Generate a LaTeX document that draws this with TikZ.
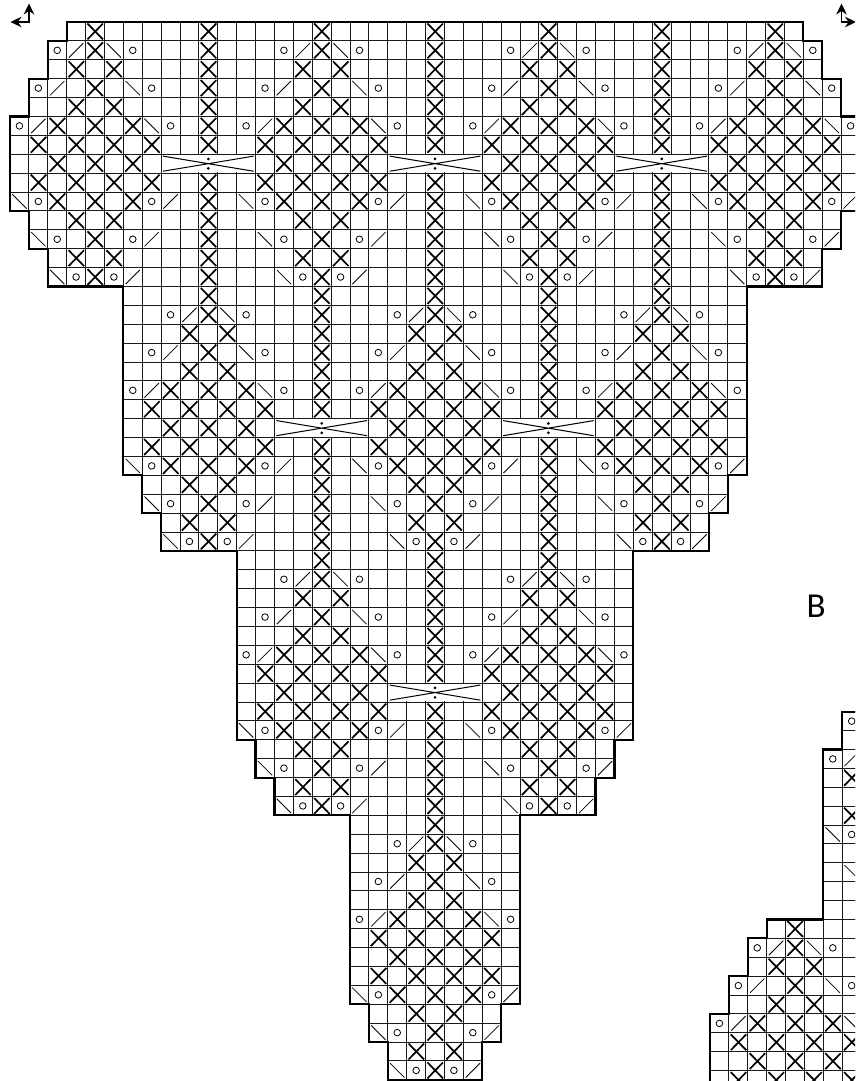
\documentclass[tikz,border=0pt]{standalone}
\usepackage{fontspec}
\setmainfont{Carlito}
\usetikzlibrary{arrows.meta}
\tikzset{
  gridln/.style={line width=1pt,black!90},
  outln/.style={line width=2.2pt,black,line join=miter},
  xst/.style={line width=1.7pt,black},
  thinst/.style={line width=0.8pt,black},
  ringst/.style={line width=0.8pt,black,fill=white},
  dirarrow/.style={line width=1.9pt,black,-{Stealth[length=11pt,width=10.5pt]}},
  chart/.style={x=18.89pt,y=-18.89pt}
}
% stitches: column, row of the cell
\newcommand{\stX}[2]{\draw[xst] ({#1+.1},{#2+.08}) -- ({#1+.92},{#2+.92}) ({#1+.92},{#2+.08}) -- ({#1+.1},{#2+.92});}
\newcommand{\stO}[2]{\draw[ringst] ({#1+.5},{#2+.5}) circle (3.3pt);}
\newcommand{\stR}[2]{\draw[thinst] ({#1+.12},{#2+.88}) -- ({#1+.88},{#2+.12});}
\newcommand{\stL}[2]{\draw[thinst] ({#1+.12},{#2+.12}) -- ({#1+.88},{#2+.88});}
% lace motif: centre column, first row
\newcommand{\lacemotif}[2]{%
  \foreach \d/\e in {0/0,0/1,-1/2,1/2,0/3,-1/4,1/4,-2/5,0/5,2/5,-3/6,-1/6,1/6,3/6,-2/7,0/7,2/7,-3/8,-1/8,1/8,3/8,-2/9,0/9,2/9,-1/10,1/10,0/11,-1/12,1/12,0/13}{\stX{#1+\d}{#2+\e}}%
  \foreach \d/\e in {-2/1,2/1,-3/3,3/3,-4/5,4/5,-3/9,3/9,-2/11,2/11,-1/13,1/13}{\stO{#1+\d}{#2+\e}}%
  \foreach \d/\e in {-1/1,-2/3,-3/5,4/9,3/11,2/13}{\stR{#1+\d}{#2+\e}}%
  \foreach \d/\e in {1/1,2/3,3/5,-4/9,-3/11,-2/13}{\stL{#1+\d}{#2+\e}}%
}
% rope column with the merged crossing in its eighth row
\newcommand{\ropecol}[2]{%
  \foreach \e in {0,...,6,8,9,...,13}{\stX{#1}{#2+\e}}%
  \fill[white] ({#1-2+.04},{#2+7+.04}) rectangle ({#1+3-.04},{#2+8-.04});
  \draw[line width=1pt,black] ({#1-2+.1},{#2+7+.1}) -- ({#1+3-.1},{#2+7+.9}) ({#1-2+.1},{#2+7+.9}) -- ({#1+3-.1},{#2+7+.1});
  \fill ({#1+.5},{#2+7+.25}) circle (1.5pt) ({#1+.5},{#2+7+.75}) circle (1.5pt);
}
\begin{document}
\begin{tikzpicture}[x=1pt,y=1pt]
\useasboundingbox (0pt,0pt) rectangle (855pt,-1081pt);
\clip (0pt,0pt) rectangle (855pt,-1081pt);
\fill[white] (0pt,0pt) rectangle (855pt,-1081pt);
% ---------- chart A
\begin{scope}[shift={(10pt,-22pt)},chart]
  \foreach \r/\L in {0/3,1/2,2/2,3/1,4/1,5/0,6/0,7/0,8/0,9/0,10/1,11/1,12/2,13/2,
     14/6,15/6,16/6,17/6,18/6,19/6,20/6,21/6,22/6,23/6,24/7,25/7,26/8,27/8,
     28/12,29/12,30/12,31/12,32/12,33/12,34/12,35/12,36/12,37/12,38/13,39/13,40/14,41/14,
     42/18,43/18,44/18,45/18,46/18,47/18,48/18,49/18,50/18,51/18,52/19,53/19,54/20,55/20}{
    \pgfmathtruncatemacro{\RR}{45-\L}
    \draw[gridln] (\L,\r) -- (\RR,\r) (\L,\r+1) -- (\RR,\r+1);
    \foreach \c in {\L,...,\RR}{\draw[gridln] (\c,\r) -- (\c,\r+1);}
  }
  \foreach \m in {4,16,28,40}{\lacemotif{\m}{0}}
  \foreach \m in {10,22,34}{\ropecol{\m}{0}}
  \foreach \m in {10,22,34}{\lacemotif{\m}{14}}
  \foreach \m in {16,28}{\ropecol{\m}{14}}
  \foreach \m in {16,28}{\lacemotif{\m}{28}}
  \ropecol{22}{28}
  \lacemotif{22}{42}
  \draw[outln] (3,0)--(3,1)--(2,1)--(2,3)--(1,3)--(1,5)--(0,5)--(0,10)--(1,10)--(1,12)--(2,12)--(2,14)--(6,14)--(6,24)--(7,24)--(7,26)--(8,26)--(8,28)--(12,28)--(12,38)--(13,38)--(13,40)--(14,40)--(14,42)--(18,42)--(18,52)--(19,52)--(19,54)--(20,54)--(20,56)--(25,56)--(25,54)--(26,54)--(26,52)--(27,52)--(27,42)--(31,42)--(31,40)--(32,40)--(32,38)--(33,38)--(33,28)--(37,28)--(37,26)--(38,26)--(38,24)--(39,24)--(39,14)--(43,14)--(43,12)--(44,12)--(44,10)--(45,10)--(45,5)--(44,5)--(44,3)--(43,3)--(43,1)--(42,1)--(42,0)--cycle;
\end{scope}
% ---------- chart B (runs off the page)
\begin{scope}[shift={(710pt,-711.7pt)},chart]
  \foreach \r/\L in {0/7,1/7,2/6,3/6,4/6,5/6,6/6,7/6,8/6,9/6,10/6,11/3,12/2,13/2,14/1,15/1,16/0,17/0,18/0,19/0,20/0}{
    \draw[gridln] (\L,\r) -- (9,\r) (\L,\r+1) -- (9,\r+1);
    \foreach \c in {\L,...,8}{\draw[gridln] (\c,\r) -- (\c,\r+1);}
  }
  \foreach \e in {3,5}{\stX{7}{\e}}
  \foreach \c/\e in {7/0,6/2,7/6}{\stO{\c}{\e}}
  \stR{7}{2}
  \foreach \c/\e in {6/6,7/8}{\stL{\c}{\e}}
  \lacemotif{4}{11}
  \draw[outln] (9,0)--(7,0)--(7,2)--(6,2)--(6,11)--(3,11)--(3,12)--(2,12)--(2,14)--(1,14)--(1,16)--(0,16)--(0,21);
\end{scope}
% ---------- direction arrows
\coordinate (cornerL) at (29pt,-22pt);
\coordinate (upL) at (29pt,-3.5pt);
\coordinate (tipL) at (10.5pt,-22pt);
\coordinate (cornerR) at (841.5pt,-22pt);
\coordinate (upR) at (841.5pt,-3.5pt);
\coordinate (tipR) at (856pt,-22pt);
\draw[dirarrow] (cornerL) -- (upL);
\draw[dirarrow] ([xshift=0.9pt]cornerL) -- (tipL);
\draw[dirarrow] (cornerR) -- (upR);
\draw[dirarrow] ([xshift=-0.9pt]cornerR) -- (tipR);
\node[anchor=base west,inner sep=0pt,font=\fontsize{35}{35}\selectfont] (labelB) at (806.5pt,-617pt) {B};
\end{tikzpicture}
\end{document}
